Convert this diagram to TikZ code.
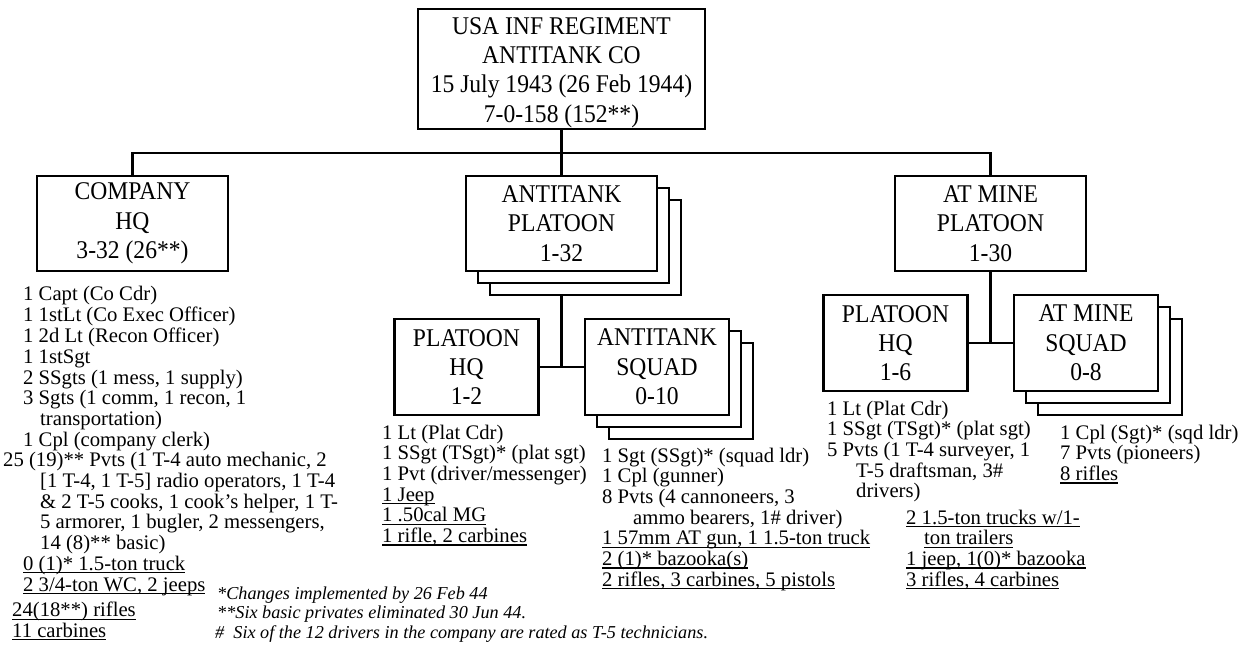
\documentclass[tikz,border=0pt]{standalone}
\usepackage{fontspec}
\setmainfont{Liberation Serif}
% slightly condensed face for the unit boxes
\newfontfamily\unitfont[FakeStretch=0.925]{Liberation Serif}
% underline drawn just below the baseline
\newcommand\ulx[1]{\setbox0=\hbox{#1}\rlap{\rule[-3pt]{\wd0}{1.2pt}}\box0}
\begin{document}
\begin{tikzpicture}[x=1pt,y=-1pt,
  unitbox/.style={draw, line width=2.6pt, fill=white, inner sep=0pt, align=center,
    font=\unitfont\fontsize{25.5}{29.3}\selectfont},
  platbox/.style={unitbox, minimum width=191pt, minimum height=95pt},
  subbox/.style={unitbox, minimum width=144pt, minimum height=96pt},
  link/.style={line width=2.8pt},
  roster/.style={anchor=north west, inner sep=0pt, align=left,
    font=\fontsize{20.7}{20.7}\selectfont},
  note/.style={anchor=north west, inner sep=0pt, align=left,
    font=\fontsize{18.2}{19.5}\selectfont\itshape}]
\fill[white] (0,0) rectangle (1250,650);
\useasboundingbox (0,0) rectangle (1250,650);

% company and its three sections
\node[unitbox, minimum width=287pt, minimum height=120pt] (co) at (561.5,69)
  {\rule{0pt}{24pt}USA INF REGIMENT\\ANTITANK CO\\15 July 1943 (26 Feb 1944)\\7-0-158 (152**)};
\node[platbox] (cohq) at (132.5,223.5) {COMPANY\\HQ\\3-32 (26**)};
\node[platbox] (atpl3) at (585.5,247.5) {};
\node[platbox] (atpl2) at (573.5,235.5) {};
\node[platbox] (atpl) at (561.5,223.5) {ANTITANK\\PLATOON\\1-32};
\node[platbox] (mnpl) at (990.5,223.5) {AT MINE\\PLATOON\\1-30};

% platoon elements
\node[subbox] (athq) at (466.5,367) {PLATOON\\HQ\\1-2};
\node[subbox] (atsq3) at (681,391) {};
\node[subbox] (atsq2) at (669,379) {};
\node[subbox] (atsq) at (657,367) {ANTITANK\\SQUAD\\0-10};
\node[subbox] (mnhq) at (895.5,343) {PLATOON\\HQ\\1-6};
\node[subbox] (mnsq3) at (1110,367) {};
\node[subbox] (mnsq2) at (1098,355) {};
\node[subbox] (mnsq) at (1086,343) {AT MINE\\SQUAD\\0-8};

% connectors
\coordinate (bus) at (561.5,153);
\draw[link] (co.south) -- (bus);
\draw[link] (cohq.north) |- (bus) -| (mnpl.north);
\draw[link] (bus) -- (atpl.north);
\coordinate (atjoin) at (561.5,367);
\draw[link] (atpl.south |- atpl3.south) -- (atjoin);
\draw[link] (athq.east) -- (atsq.west);
\coordinate (mnjoin) at (990.5,343);
\draw[link] (mnpl.south) -- (mnjoin);
\draw[link] (mnhq.east) -- (mnsq.west);

% personnel and equipment
\node[roster] (cohqlist) at (3,285.5) {\strut\hspace*{20pt}1 Capt (Co Cdr)\\
  \hspace*{20pt}1 1stLt (Co Exec Officer)\\
  \hspace*{20pt}1 2d Lt (Recon Officer)\\
  \hspace*{20pt}1 1stSgt\\
  \hspace*{20pt}2 SSgts (1 mess, 1 supply)\\
  \hspace*{20pt}3 Sgts (1 comm, 1 recon, 1\\
  \hspace*{37pt}transportation)\\
  \hspace*{20pt}1 Cpl (company clerk)\\
  25 (19)** Pvts (1 T-4 auto mechanic, 2\\
  \hspace*{37pt}[1 T-4, 1 T-5] radio operators, 1 T-4\\
  \hspace*{37pt}\& 2 T-5 cooks, 1 cook’s helper, 1 T-\\
  \hspace*{37pt}5 armorer, 1 bugler, 2 messengers,\\
  \hspace*{37pt}14 (8)** basic)\\
  \hspace*{20pt}\ulx{0 (1)* 1.5-ton truck}\\
  \hspace*{20pt}\ulx{2 3/4-ton WC, 2 jeeps}\\[5pt]
  \hspace*{9pt}\ulx{24(18**) rifles}\\
  \hspace*{9pt}\ulx{11 carbines}};

\node[roster] (athqlist) at (382,424.5) {\strut 1 Lt (Plat Cdr)\\
  1 SSgt (TSgt)* (plat sgt)\\
  1 Pvt (driver/messenger)\\
  \ulx{1 Jeep}\\
  \ulx{1 .50cal MG}\\
  \ulx{1 rifle, 2 carbines}};

\node[roster] (atsqlist) at (602,447.5) {\strut 1 Sgt (SSgt)* (squad ldr)\\
  1 Cpl (gunner)\\
  8 Pvts (4 cannoneers, 3\\
  \hspace*{31pt}ammo bearers, 1\# driver)\\
  \ulx{1 57mm AT gun, 1 1.5-ton truck}\\
  \ulx{2 (1)* bazooka(s)}\\
  \ulx{2 rifles, 3 carbines, 5 pistols}};

\node[roster] (mnhqlist) at (827,400.5) {\strut 1 Lt (Plat Cdr)\\
  1 SSgt (TSgt)* (plat sgt)\\
  5 Pvts (1 T-4 surveyer, 1\\
  \hspace*{29pt}T-5 draftsman, 3\#\\
  \hspace*{29pt}drivers)};

\node[roster] (mnhqgear) at (906,509.5) {\strut\ulx{2 1.5-ton trucks w/1-}\\
  \hspace*{18pt}\ulx{ton trailers}\\
  \ulx{1 jeep, 1(0)* bazooka}\\
  \ulx{3 rifles, 4 carbines}};

\node[roster] (mnsqlist) at (1060,424.5) {\strut 1 Cpl (Sgt)* (sqd ldr)\\
  7 Pvts (pioneers)\\
  \ulx{8 rifles}};

% notes
\node[note] (notes) at (217,585.4) {\strut *Changes implemented by 26 Feb 44\\
  {}**Six basic privates eliminated 30 Jun 44.\\
  \hspace*{-2pt}\#\ \ Six of the 12 drivers in the company are rated as T-5 technicians.};
\end{tikzpicture}
\end{document}
